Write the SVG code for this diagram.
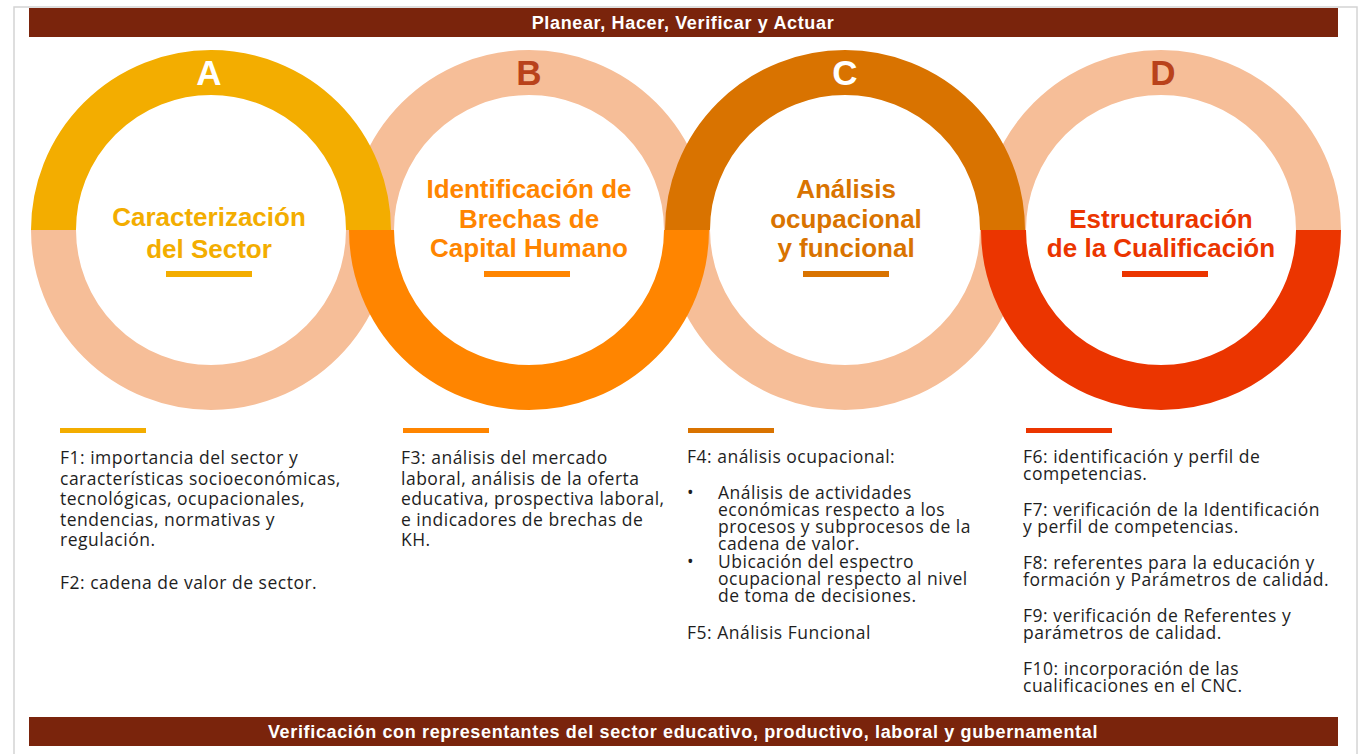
<svg xmlns="http://www.w3.org/2000/svg" width="1359" height="754" viewBox="0 0 1359 754">
<style>
.bar{fill:#7A240C}
.bartxt{fill:#fff;font-family:"Liberation Sans",Arial,sans-serif;font-weight:bold;font-size:18px;letter-spacing:0.65px;text-anchor:middle}
.track{fill:none;stroke:#F6BE98;stroke-width:45}
.ring{fill:none;stroke-width:45}
.letter{font-family:"Liberation Sans",Arial,sans-serif;font-weight:bold;font-size:35px;text-anchor:middle}
.title{font-family:"Liberation Sans",Arial,sans-serif;font-weight:bold;font-size:26px;text-anchor:middle}
.body{fill:#1E1E1E;font-family:"Open Sans","Liberation Sans",sans-serif;font-size:17.5px;letter-spacing:0.5px}
</style>
<rect x="14" y="7" width="1343" height="760" fill="#fff" stroke="#D4D4D4" stroke-width="1.5"/>
<g id="top-bar">
<rect class="bar" x="29" y="8" width="1309" height="29"/>
<text class="bartxt" x="683" y="29">Planear, Hacer, Verificar y Actuar</text>
</g>
<g id="ring-tracks">
<path class="track" d="M53.5 230 A157.5 157.5 0 0 0 368.5 230"/>
<path class="track" d="M371.5 230 A157.5 157.5 0 0 1 686.5 230"/>
<path class="track" d="M687.5 230 A157.5 157.5 0 0 0 1002.5 230"/>
<path class="track" d="M1003.5 230 A157.5 157.5 0 0 1 1318.5 230"/>
</g>
<g id="node-A">
<path class="ring" stroke="#F3AD00" d="M53.5 230 A157.5 157.5 0 0 1 368.5 230"/>
<text class="letter" fill="#fff" x="209" y="85">A</text>
<text class="title" fill="#F3AD00" x="209" y="226">Caracterización</text>
<text class="title" fill="#F3AD00" x="209" y="258">del Sector</text>
<rect x="166" y="271" width="86" height="6" fill="#F3AD00"/>
</g>
<g id="node-B">
<path class="ring" stroke="#FF8500" d="M371.5 230 A157.5 157.5 0 0 0 686.5 230"/>
<text class="letter" fill="#B9421B" x="529" y="85">B</text>
<text class="title" fill="#FF8500" x="529" y="198">Identificación de</text>
<text class="title" fill="#FF8500" x="529" y="228">Brechas de</text>
<text class="title" fill="#FF8500" x="529" y="257">Capital Humano</text>
<rect x="484" y="271" width="86" height="6" fill="#FF8500"/>
</g>
<g id="node-C">
<path class="ring" stroke="#D97300" d="M687.5 230 A157.5 157.5 0 0 1 1002.5 230"/>
<text class="letter" fill="#fff" x="845" y="85">C</text>
<text class="title" fill="#D97300" x="846" y="198">Análisis</text>
<text class="title" fill="#D97300" x="846" y="228">ocupacional</text>
<text class="title" fill="#D97300" x="846" y="257">y funcional</text>
<rect x="803" y="271" width="86" height="6" fill="#D97300"/>
</g>
<g id="node-D">
<path class="ring" stroke="#EB3500" d="M1003.5 230 A157.5 157.5 0 0 0 1318.5 230"/>
<text class="letter" fill="#B9421B" x="1163" y="85">D</text>
<text class="title" fill="#EB3500" x="1161" y="228">Estructuración</text>
<text class="title" fill="#EB3500" x="1161" y="257">de la Cualificación</text>
<rect x="1122" y="271" width="86" height="6" fill="#EB3500"/>
</g>
<g id="desc-A">
<rect x="60" y="428" width="86" height="5" fill="#F3AD00"/>
<text class="body" x="60" y="464">F1: importancia del sector y</text>
<text class="body" x="60" y="484.5">características socioeconómicas,</text>
<text class="body" x="60" y="505">tecnológicas, ocupacionales,</text>
<text class="body" x="60" y="525.5">tendencias, normativas y</text>
<text class="body" x="60" y="546">regulación.</text>
<text class="body" x="60" y="589">F2: cadena de valor de sector.</text>
</g>
<g id="desc-B">
<rect x="403" y="428" width="86" height="5" fill="#FF8500"/>
<text class="body" x="401" y="464">F3: análisis del mercado</text>
<text class="body" x="401" y="484.5">laboral, análisis de la oferta</text>
<text class="body" x="401" y="505">educativa, prospectiva laboral,</text>
<text class="body" x="401" y="525.5">e indicadores de brechas de</text>
<text class="body" x="401" y="546">KH.</text>
</g>
<g id="desc-C">
<rect x="688" y="428" width="86" height="5" fill="#D97300"/>
<text class="body" x="687" y="463">F4: análisis ocupacional:</text>
<text class="body" x="687" y="499">•</text>
<text class="body" x="718" y="499">Análisis de actividades</text>
<text class="body" x="718" y="516">económicas respecto a los</text>
<text class="body" x="718" y="533">procesos y subprocesos de la</text>
<text class="body" x="718" y="550">cadena de valor.</text>
<text class="body" x="687" y="568">•</text>
<text class="body" x="718" y="568">Ubicación del espectro</text>
<text class="body" x="718" y="585">ocupacional respecto al nivel</text>
<text class="body" x="718" y="602">de toma de decisiones.</text>
<text class="body" x="687" y="639">F5: Análisis Funcional</text>
</g>
<g id="desc-D">
<rect x="1026" y="428" width="86" height="5" fill="#EB3500"/>
<text class="body" x="1023" y="463">F6: identificación y perfil de</text>
<text class="body" x="1023" y="480">competencias.</text>
<text class="body" x="1023" y="516">F7: verificación de la Identificación</text>
<text class="body" x="1023" y="533">y perfil de competencias.</text>
<text class="body" x="1023" y="569">F8: referentes para la educación y</text>
<text class="body" x="1023" y="586">formación y Parámetros de calidad.</text>
<text class="body" x="1023" y="622">F9: verificación de Referentes y</text>
<text class="body" x="1023" y="639">parámetros de calidad.</text>
<text class="body" x="1023" y="675">F10: incorporación de las</text>
<text class="body" x="1023" y="692">cualificaciones en el CNC.</text>
</g>
<g id="bottom-bar">
<rect class="bar" x="29" y="717" width="1309" height="29"/>
<text class="bartxt" x="683" y="738">Verificación con representantes del sector educativo, productivo, laboral y gubernamental</text>
</g>
</svg>
